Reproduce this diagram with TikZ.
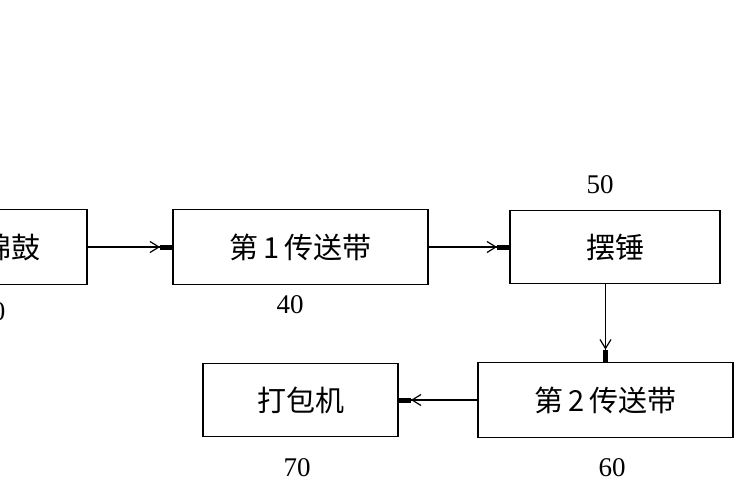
\documentclass[tikz,border=0pt]{standalone}
\usepackage{fontspec}
\newfontfamily\cjk{Noto Sans CJK SC}
\setmainfont{Liberation Serif}
\usetikzlibrary{arrows.meta}
\begin{document}
\begin{tikzpicture}[x=1pt,y=-1pt,
  box/.style={draw,line width=1.8pt,inner sep=0pt,font=\cjk\fontsize{29}{32}\selectfont},
  lbl/.style={font=\fontsize{27}{30}\selectfont},
  conn/.style={line width=1.4pt,-{Straight Barb[length=9pt,width=11pt,line width=1.2pt]Rectangle[length=12pt,width=5pt]}}]
\useasboundingbox (0,0) rectangle (750,500);
\begin{scope}
\clip (0,0) rectangle (750,500);
\node[box,minimum width=150pt,minimum height=75pt] (a) at (12,247) {棉鼓};
\node[lbl] (la) at (-8,312) {30};
\end{scope}
\node[box,minimum width=255pt,minimum height=75pt] (b) at (300.5,247) {第\,1\,传送带};
\node[box,minimum width=210pt,minimum height=73pt] (c) at (615,247) {摆锤};
\node[box,minimum width=255pt,minimum height=75pt] (d) at (605.5,400) {第\,2\,传送带};
\node[box,minimum width=195pt,minimum height=73pt] (e) at (300.5,400) {打包机};
\node[lbl] at (290,305) {40};
\node[lbl] at (600,185) {50};
\node[lbl] at (612,468) {60};
\node[lbl] at (297,468) {70};
\draw[conn] (a.east) -- (b.west);
\draw[conn] (b.east) -- (c.west);
\draw[conn] (c.south -| d.north) -- (d.north);
\draw[conn] (d.west) -- (e.east);
\end{tikzpicture}
\end{document}
